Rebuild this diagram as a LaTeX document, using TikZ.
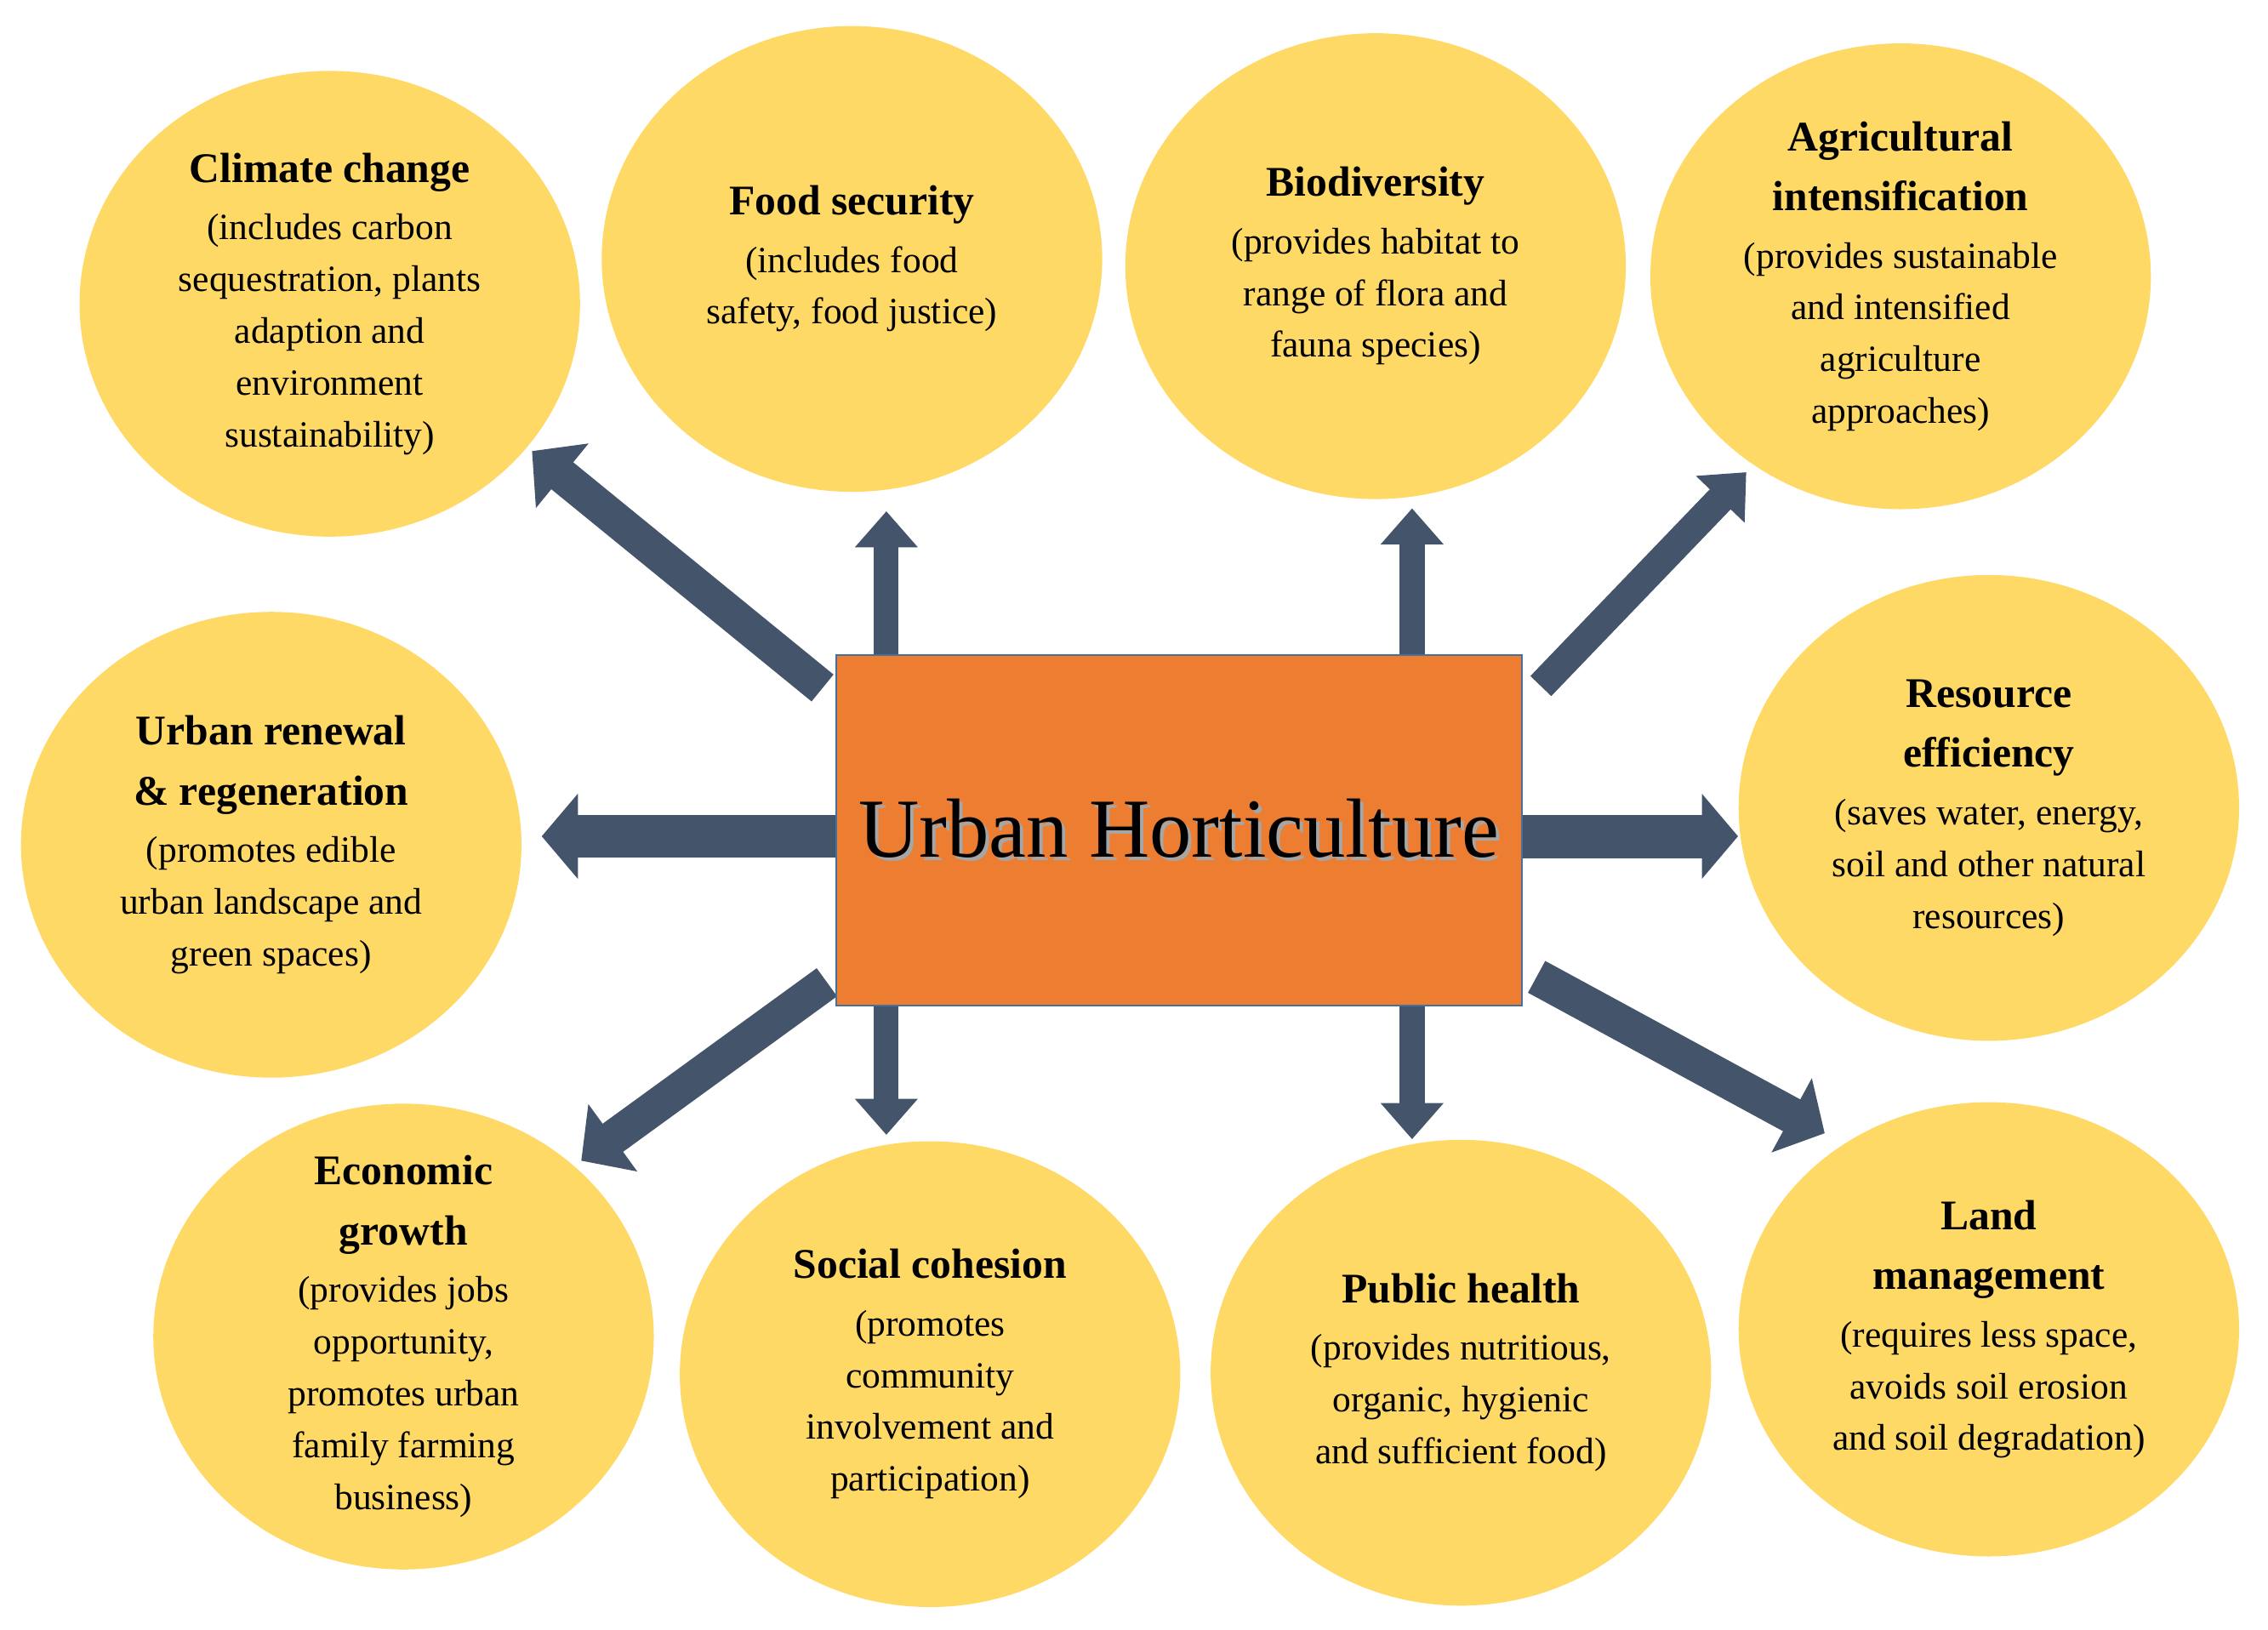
\documentclass[tikz,border=0pt]{standalone}
\usepackage{fontspec}
\setmainfont{Liberation Serif}
\usetikzlibrary{shapes.geometric,arrows.meta,backgrounds}
\definecolor{gold}{RGB}{255,217,102}
\definecolor{tangerine}{RGB}{237,125,49}
\definecolor{steel}{RGB}{65,113,156}
\definecolor{slate}{RGB}{68,84,106}
\newcommand{\ttl}[1]{{\bfseries\fontsize{14.6}{20.75}\selectfont #1}}
\newcommand{\shadowtext}[1]{\rlap{\kern1.2pt\raisebox{-1.2pt}{\color{black!35}#1}}#1}
\tikzset{
  bubble/.style={ellipse, fill=gold, draw=none, minimum width=173pt, minimum height=161pt, inner sep=0pt},
  txt/.style={align=center, text=black, inner sep=0pt, font=\fontsize{12.8}{17.9}\selectfont},
  hub/.style={rectangle, fill=tangerine, draw=steel, line width=0.5pt, minimum width=237pt, minimum height=121pt, inner sep=0pt, font=\fontsize{29}{34}\selectfont},
  thinarr/.style={draw=slate, line width=8.75pt, -{Triangle[width=21pt,length=12.5pt]}},
  diagarr/.style={draw=slate, line width=12pt, -{Triangle[width=28pt,length=13.5pt]}},
  sidearr/.style={draw=slate, line width=14.75pt, -{Triangle[width=28.75pt,length=12.5pt]}},
}
\begin{document}
\begin{tikzpicture}[x=0.5pt,y=0.5pt,yscale=-1,xscale=1]
\useasboundingbox (0,0) rectangle (1568,1126.3);
\begin{scope}[on background layer]
\fill[white] (0,0) rectangle (1568,1126.3);
\end{scope}

%Shape: Ellipse
\node[bubble, label={[txt]center:{\ttl{Climate change}\\[1.9pt](includes carbon\\sequestration, plants\\adaption and\\environment\\sustainability)}}] (clim) at (228,210) {};
%Shape: Ellipse
\node[bubble, label={[txt]center:{\ttl{Food security}\\[1.9pt](includes food\\safety, food justice)}}] (food) at (589,179) {};
%Shape: Ellipse
\node[bubble, label={[txt]center:{\ttl{Biodiversity}\\[1.9pt](provides habitat to\\range of flora and\\fauna species)}}] (bio) at (951,184) {};
%Shape: Ellipse
\node[bubble, label={[txt]center:{\ttl{Agricultural}\\[2.85pt]\ttl{intensification}\\[1.9pt](provides sustainable\\and intensified\\agriculture\\approaches)}}] (agri) at (1314,191) {};
%Shape: Ellipse
\node[bubble, label={[txt]center:{\ttl{Urban renewal}\\[2.85pt]\ttl{\& regeneration}\\[1.9pt](promotes edible\\urban landscape and\\green spaces)}}] (urb) at (187.5,584) {};
%Shape: Ellipse
\node[bubble, label={[txt]center:{\ttl{Resource}\\[2.85pt]\ttl{efficiency}\\[1.9pt](saves water, energy,\\soil and other natural\\resources)}}] (res) at (1375,558.5) {};
%Shape: Ellipse
\node[bubble, label={[txt]center:{\ttl{Economic}\\[2.85pt]\ttl{growth}\\[1.9pt](provides jobs\\opportunity,\\promotes urban\\family farming\\business)}}] (econ) at (279,924) {};
%Shape: Ellipse
\node[bubble, label={[txt]center:{\ttl{Social cohesion}\\[1.9pt](promotes\\community\\involvement and\\participation)}}] (soc) at (643,950) {};
%Shape: Ellipse
\node[bubble, label={[txt]center:{\ttl{Public health}\\[1.9pt](provides nutritious,\\organic, hygienic\\and sufficient food)}}] (pub) at (1010,949) {};
%Shape: Ellipse
\node[bubble, minimum height=157pt, label={[txt]center:{\ttl{Land}\\[2.85pt]\ttl{management}\\[1.9pt](requires less space,\\avoids soil erosion\\and soil degradation)}}] (land) at (1375,919) {};

%Shape: Rectangle
\node[hub] (hub) at (815,574) {\shadowtext{Urban Horticulture}};

\begin{scope}[on background layer]
%Straight Lines
\draw[diagarr, shorten <=5.7pt, shorten >=2pt] (hub.159) -- (clim.-36.3);
%Straight Lines
\draw[thinarr, line width=8.5pt, shorten >=6.5pt] (hub.149) -- (hub.149 |- food.south);
%Straight Lines
\draw[thinarr, line width=9pt, shorten >=3pt] (hub.37.3) -- (hub.37.3 |- bio.south);
%Straight Lines
\draw[diagarr, line width=10pt, -{Triangle[width=22.5pt,length=13pt]}, shorten <=9.2pt, shorten >=3.4pt] (hub.20.2) -- (agri.232.8);
%Straight Lines
\draw[sidearr, shorten >=6.8pt] (hub.181) -- (hub.181 -| urb.east);
%Straight Lines
\draw[sidearr, line width=15pt] (hub.-1) -- (hub.-1 -| res.west);
%Straight Lines
\draw[diagarr, shorten <=3.6pt, shorten >=2.9pt] (hub.203.3) -- (econ.45.3);
%Straight Lines
\draw[thinarr, line width=8.5pt, shorten >=2pt] (hub.211.5) -- (hub.211.5 |- soc.north);
%Straight Lines
\draw[thinarr, line width=9pt] (hub.-37.5) -- (hub.-37.5 |- pub.north);
%Straight Lines
\draw[diagarr, line width=12.5pt, -{Triangle[width=28.5pt,length=13pt]}, shorten <=5.6pt, shorten >=7.5pt] (hub.-22.7) -- (land.128.3);
\end{scope}

\end{tikzpicture}
\end{document}
